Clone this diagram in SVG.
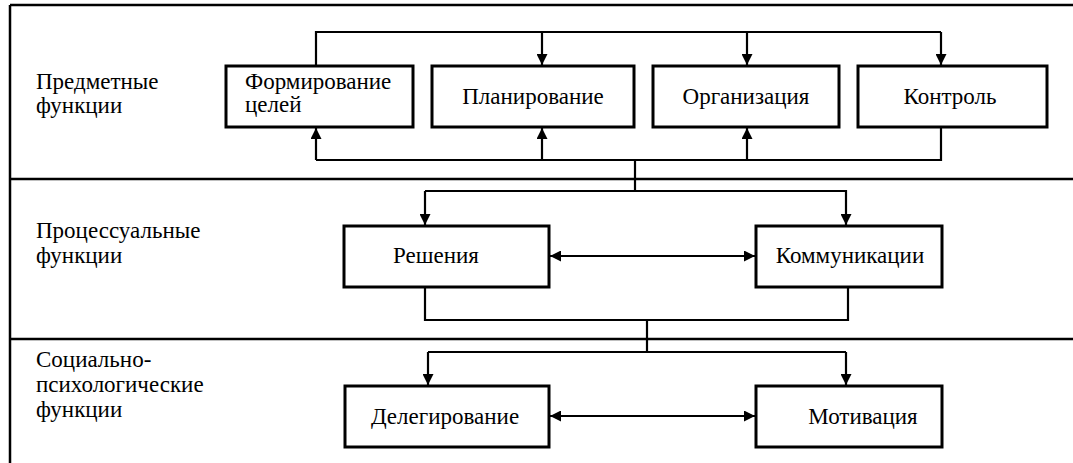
<svg xmlns="http://www.w3.org/2000/svg" width="1073" height="463" viewBox="0 0 1073 463">
<style>
.box{fill:#fff;stroke:#000;stroke-width:3}
.ln{fill:none;stroke:#000;stroke-width:2.2}
.fr{fill:none;stroke:#000;stroke-width:2.5}
text{font-family:'Liberation Serif','Times New Roman',serif;font-size:23px;fill:#000}
</style>
<defs>
<marker id="ah" viewBox="0 0 10 10" refX="10" refY="5" markerWidth="11" markerHeight="11" markerUnits="userSpaceOnUse" orient="auto-start-reverse">
<path d="M0,0 L10,5 L0,10 z" fill="#000"/>
</marker>
</defs>
<g id="frame">
<path class="fr" d="M10,5 V463 M10,5 H1073 M10,179 H1073 M10,339 H1073"/>
</g>
<g id="labels">
<text x="36" y="89">Предметные</text>
<text x="36" y="113">функции</text>
<text x="36" y="238">Процессуальные</text>
<text x="36" y="263">функции</text>
<text x="36" y="367">Социально-</text>
<text x="36" y="392">психологические</text>
<text x="36" y="417">функции</text>
</g>
<g id="connectors">
<path class="ln" d="M316,66 V32 H941"/>
<path class="ln" d="M542,32 V65" marker-end="url(#ah)"/>
<path class="ln" d="M747,32 V65" marker-end="url(#ah)"/>
<path class="ln" d="M941,32 V65" marker-end="url(#ah)"/>
<path class="ln" d="M941,127 V160 H316"/>
<path class="ln" d="M316,160 V128" marker-end="url(#ah)"/>
<path class="ln" d="M542,160 V128" marker-end="url(#ah)"/>
<path class="ln" d="M747,160 V128" marker-end="url(#ah)"/>
<path class="ln" d="M635,160 V191"/>
<path class="ln" d="M425,191 H846 V225" marker-end="url(#ah)"/>
<path class="ln" d="M425,191 V225" marker-end="url(#ah)"/>
<path class="ln" d="M550,256 H755" marker-start="url(#ah)" marker-end="url(#ah)"/>
<path class="ln" d="M425,287 V320 H848 V287"/>
<path class="ln" d="M647,320 V352"/>
<path class="ln" d="M428,352 H846"/>
<path class="ln" d="M428,352 V385" marker-end="url(#ah)"/>
<path class="ln" d="M846,352 V385" marker-end="url(#ah)"/>
<path class="ln" d="M550,416 H755" marker-start="url(#ah)" marker-end="url(#ah)"/>
</g>
<g id="n-formirovanie">
<rect class="box" x="226" y="66" width="187" height="61"/>
<text x="245" y="89">Формирование</text>
<text x="245" y="112">целей</text>
</g>
<g id="n-planirovanie">
<rect class="box" x="432" y="66" width="202" height="61"/>
<text x="533" y="104" text-anchor="middle">Планирование</text>
</g>
<g id="n-organizaciya">
<rect class="box" x="653" y="66" width="186" height="61"/>
<text x="746" y="104" text-anchor="middle">Организация</text>
</g>
<g id="n-kontrol">
<rect class="box" x="858" y="66" width="189" height="61"/>
<text x="950" y="104" text-anchor="middle">Контроль</text>
</g>
<g id="n-resheniya">
<rect class="box" x="344" y="226" width="205" height="61"/>
<text x="436" y="263" text-anchor="middle">Решения</text>
</g>
<g id="n-kommunikacii">
<rect class="box" x="756" y="226" width="186" height="61"/>
<text x="850" y="263" text-anchor="middle">Коммуникации</text>
</g>
<g id="n-delegirovanie">
<rect class="box" x="345" y="386" width="204" height="61"/>
<text x="445" y="424" text-anchor="middle">Делегирование</text>
</g>
<g id="n-motivaciya">
<rect class="box" x="756" y="386" width="186" height="61"/>
<text x="863" y="424" text-anchor="middle">Мотивация</text>
</g>
</svg>
